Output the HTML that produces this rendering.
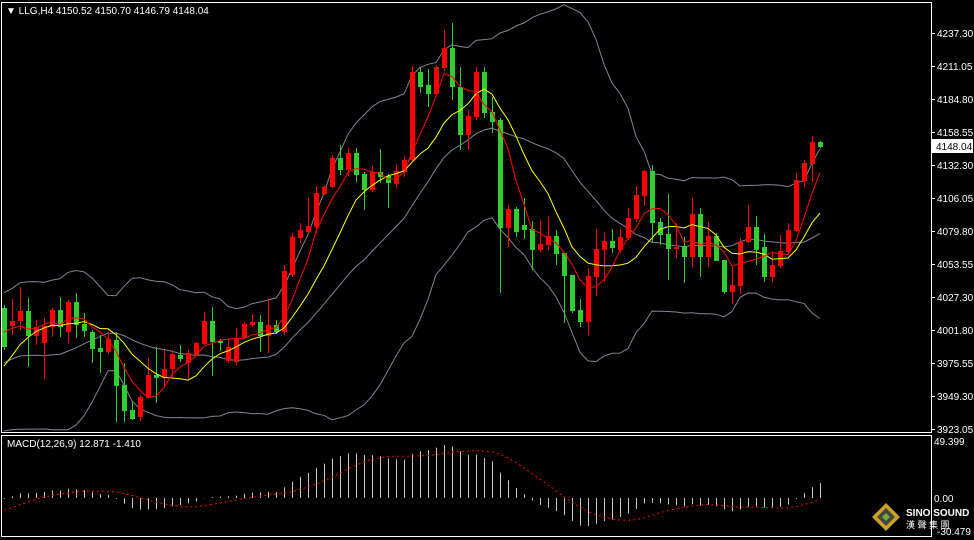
<!DOCTYPE html>
<html><head><meta charset="utf-8"><style>
html,body{margin:0;padding:0;background:#000;width:974px;height:540px;overflow:hidden}
svg{display:block}
text{font-family:"Liberation Sans",sans-serif;font-size:10px;fill:#fff}
</style></head><body>
<svg id="s" width="974" height="540" viewBox="0 0 974 540" xmlns="http://www.w3.org/2000/svg">
<rect width="974" height="540" fill="#000"/>
<rect x="1.5" y="2.5" width="930" height="430" fill="none" stroke="#fff"/>
<rect x="1.5" y="435.5" width="930" height="101" fill="none" stroke="#fff"/>
<g id="g"></g>
<text x="6" y="14">▼ LLG,H4  4150.52 4150.70 4146.79 4148.04</text>
<text x="7" y="447">MACD(12,26,9) 12.871 -1.410</text>
<g id="ax"></g>
<rect x="932" y="139" width="41" height="14" fill="#fff"/>
<text x="936" y="150" style="fill:#000">4148.04</text>
<text x="934" y="445">49.399</text>
<text x="934" y="502">0.00</text>
<text x="937" y="535">-30.479</text>
<g transform="translate(886,517)">
<polygon points="0,-14 14,0 0,14 -14,0" fill="#c9a227"/>
<polygon points="0,-9 9,0 0,9 -9,0" fill="#444"/>
<polygon points="0,-4 4,0 0,4 -4,0" fill="#7a3"/>
</g>
<text x="906" y="516" style="font-weight:bold">SINO SOUND</text>
<text x="906" y="528" style="font-size:9px;font-family:'Liberation Sans','Noto Sans CJK SC',sans-serif">漢 聲 集 團</text>
</svg>
<script>
var D=[[308,347,305,350],[326,321,299,335],[321,311,287,330],[311,336,298,367],[336,327,320,345],[343,326,318,379],[327,310,308,337],[310,327,297,337],[332,302,300,343],[302,325,293,338],[324,331,313,337],[332,349,330,363],[348,352,335,373],[352,339,333,354],[340,386,332,422],[385,411,363,422],[410,419,402,420],[417,397,395,421],[398,375,358,398],[375,378,347,403],[378,369,350,386],[369,354,350,377],[355,359,345,362],[363,353,350,378],[355,343,342,356],[344,321,312,345],[321,342,307,376],[341,343,339,351],[361,347,338,363],[362,338,328,365],[338,324,322,339],[325,322,314,327],[322,336,315,352],[336,325,298,353],[325,332,320,334],[332,271,265,335],
[275,237,233,277],[238,230,223,243],[232,226,198,233],[227,193,186,233],[194,187,185,195],[187,158,155,188],[158,170,145,175],[170,153,148,176],[153,175,148,182],[174,190,172,210],[190,172,166,192],[172,177,149,183],[176,183,174,208],[184,171,164,188],[172,160,156,177],[160,72,66,162],[72,87,67,93],[85,94,69,107],[94,67,65,95],[68,48,30,71],[48,87,23,100],[87,135,67,150],[135,116,110,150],[117,72,67,120],[72,113,67,118],[112,122,97,133],[120,228,118,293],
[228,209,205,247],[209,232,207,237],[225,230,198,239],[229,250,221,270],[250,244,220,252],[245,236,217,250],[236,254,230,265],[253,276,253,323],[275,311,275,313],[310,322,299,327],[322,276,268,335],[277,249,229,296],[250,241,233,282],[241,248,229,253],[250,237,228,253],[238,218,208,240],[219,195,186,222],[196,171,170,206],[171,223,165,243],[222,235,218,245],[234,249,194,280],[248,247,223,258],[246,257,237,283],[257,214,198,267],[214,257,208,277],[257,236,222,267],[236,261,233,260],[260,292,260,294],[292,285,267,304],[286,242,238,294],[242,227,205,243],[227,250,216,265],[247,277,234,282],[277,265,253,282],[266,251,235,268],[252,230,223,253],[231,180,173,232],[181,163,160,187],[164,142,136,182],[142,147,141,148]];
var NS="http://www.w3.org/2000/svg",g=document.getElementById('g');
function el(t,a){var e=document.createElementNS(NS,t);for(var k in a)e.setAttribute(k,a[k]);g.appendChild(e);return e;}
var X=function(i){return 4+8*i;};
var pre=[],cl=[];
for(var i=0;i<30;i++)pre.push(200+i*7);
for(var i=0;i<20;i++)pre.push(372+52*Math.sin(i*0.5+2.14));
D.forEach(function(d){cl.push(d[1]);});
var all=pre.concat(cl),P=pre.length;
function sma(a,n,i){var s=0;for(var k=i-n+1;k<=i;k++)s+=a[k];return s/n;}
var up=[],mid=[],lo=[],m1=[],m2=[];
for(var i=0;i<D.length;i++){var j=i+P,m=sma(all,20,j),v=0;for(var k=j-19;k<=j;k++)v+=(all[k]-m)*(all[k]-m);var sd=Math.sqrt(v/20);
mid.push(m);up.push(m-2*sd);lo.push(m+2*sd);m1.push(sma(all,5,j));m2.push(sma(all,10,j));}
function pl(a,c,w){var p=a.map(function(y,i){return X(i)+','+Math.max(3,Math.min(431,y)).toFixed(1);}).join(' ');el('polyline',{points:p,fill:'none',stroke:c,'stroke-width':w});}
pl(up,'#7f8693',1);pl(mid,'#7f8693',1);pl(lo,'#7f8693',1);
D.forEach(function(d,i){var o=d[0],c=d[1],col=c<o?'#ff0000':'#32cd32',x=X(i);
el('line',{x1:x+.5,x2:x+.5,y1:d[2],y2:d[3],stroke:col,'stroke-width':1});
var t=Math.min(o,c),h=Math.max(2,Math.abs(o-c));el('rect',{x:x-2,y:t,width:5,height:h,fill:col});});
pl(m2,'#ffff00',1);pl(m1,'#ff0000',1);
var pr=all.map(function(y){return -y/1.2602;});
function ema(a,n){var r=[],k=2/(n+1);r[0]=a[0];for(var i=1;i<a.length;i++)r[i]=a[i]*k+r[i-1]*(1-k);return r;}
var e12=ema(pr,12),e26=ema(pr,26),md=pr.map(function(v,i){return e12[i]-e26[i];});
var sg=[];for(var i=0;i<md.length;i++){sg[i]=i<8?md[i]:sma(md,9,i);}
var z=498,sc=1.154,pts=[];
for(var i=0;i<D.length;i++){var j=i+P,v=md[j],x=X(i)+.5;
el('line',{x1:x,x2:x,y1:z,y2:Math.max(438,Math.min(535,z-v*sc)),stroke:'#c8c8c8','stroke-width':1});
pts.push(x+','+Math.max(438,Math.min(535,z-sg[j]*sc)).toFixed(1));}
el('polyline',{points:pts.join(' '),fill:'none',stroke:'#ff0000','stroke-width':1,'stroke-dasharray':'2,3'});
var ax=document.getElementById('ax'),labs=["4237.30","4211.05","4184.80","4158.55","4132.30","4106.05","4079.80","4053.55","4027.30","4001.80","3975.55","3949.30","3923.05"];
labs.forEach(function(l,i){var y=33+33*i;var t=document.createElementNS(NS,'line');t.setAttribute('x1',932);t.setAttribute('x2',935);t.setAttribute('y1',y+.5);t.setAttribute('y2',y+.5);t.setAttribute('stroke','#fff');ax.appendChild(t);
var tx=document.createElementNS(NS,'text');tx.setAttribute('x',937);tx.setAttribute('y',y+4);tx.textContent=l;ax.appendChild(tx);});
</script>
</body></html>
